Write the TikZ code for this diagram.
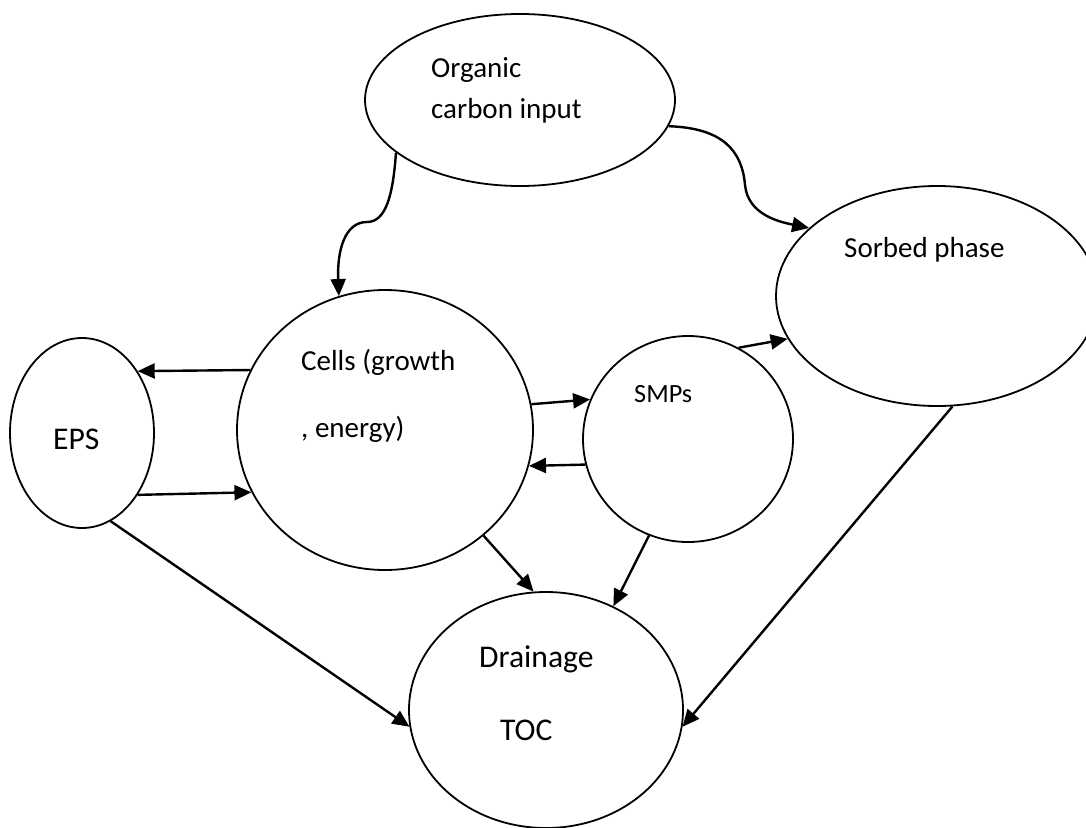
\documentclass[tikz,border=0pt]{standalone}
\usepackage{fontspec}
\setmainfont{Carlito}
\usetikzlibrary{shapes.geometric,arrows.meta}

\begin{document}
\begin{tikzpicture}[x=1pt,y=-1pt,
    blob/.style={draw,ellipse,line width=1.8pt,inner sep=0pt},
    lbl/.style={anchor=base west,inner sep=0pt,font=\fontsize{29}{35}\selectfont},
    big/.style={lbl,font=\fontsize{31.6}{38}\selectfont},
    small/.style={lbl,font=\fontsize{26.3}{32}\selectfont},
    flow/.style={line width=2.4pt,-{Triangle[length=17pt,width=15pt]}}]
    \useasboundingbox (0,0) rectangle (1086,827);

    \node[blob,minimum width=310pt,minimum height=172pt](Org) at (520,100) {};
    \node[blob,minimum width=322pt,minimum height=220pt](Sorb) at (937,296) {};
    \node[blob,minimum width=144pt,minimum height=190pt](EPS) at (82,433) {};
    \node[blob,minimum width=296pt,minimum height=280pt](Cell) at (385,430) {};
    \node[blob,minimum width=210pt,minimum height=206pt](SMP) at (688,439) {};
    \node[blob,minimum width=274pt,minimum height=236pt](TOC) at (546,710) {};

    \node[lbl](OrgA) at (431,77) {Organic};
    \node[lbl](OrgB) at (431,118) {carbon input};
    \node[lbl](SorbT) at (844,257) {Sorbed phase};
    \node[big](EPST) at (53,449) {EPS};
    \node[lbl](CellA) at (301,370) {Cells (growth};
    \node[lbl](CellB) at (301,437) {, energy)};
    \node[small](SMPT) at (634,402) {SMPs};
    \node[big](TOCA) at (479,667) {Drainage};
    \node[big](TOCB) at (500,740) {TOC};

    \draw[flow] (Org.203) .. controls (393,195) and (386,222) .. (367,222)
        .. controls (345,222) and (337,250) .. (Cell.109);
    \draw[flow] (Org.-10) .. controls (722,128) and (742,150) .. (745,185)
        .. controls (748,215) and (780,222) .. (Sorb.152);
    \draw[flow] (Cell.156) -- (EPS.48);
    \draw[flow] (EPS.-48) -- (Cell.205);
    \draw[flow] (Cell.10) -- (SMP.158);
    \draw[flow] (SMP.194) -- (Cell.-14);
    \draw[flow] (SMP.61) -- (Sorb.196);
    \draw[flow] (EPS.-72) -- (TOC.187);
    \draw[flow] (Cell.-47) -- (TOC.96);
    \draw[flow] (SMP.248) -- (TOC.57);
    \draw[flow] (Sorb.-82) -- (TOC.-7);
\end{tikzpicture}
\end{document}
